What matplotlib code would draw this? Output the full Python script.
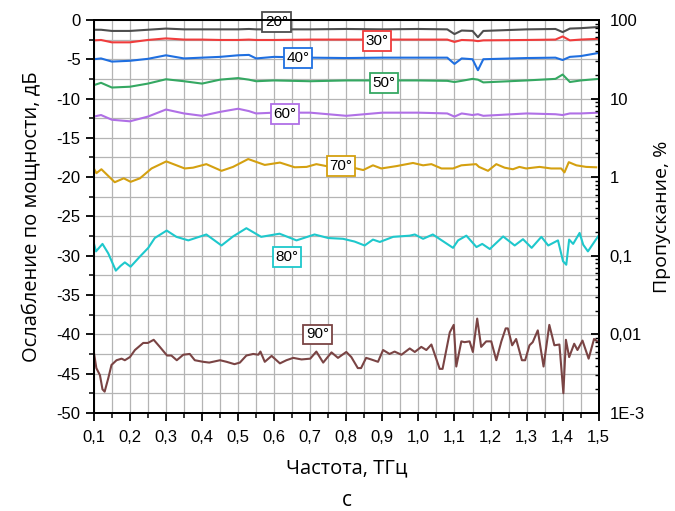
import matplotlib.pyplot as plt
from matplotlib.ticker import MultipleLocator, FixedLocator, FixedFormatter, LogLocator, NullFormatter

# frequencies (THz) and attenuation (dB)
f_flat = [0.10, 0.12, 0.15, 0.20, 0.25, 0.30, 0.35, 0.40, 0.45, 0.50, 0.53, 0.55, 0.60, 0.70,
          0.80, 0.90, 1.00, 1.08, 1.10, 1.12, 1.15, 1.165, 1.18, 1.30, 1.38, 1.40, 1.42, 1.45, 1.50]
db_20 = [-1.25, -1.25, -1.40, -1.40, -1.25, -1.10, -1.20, -1.20, -1.20, -1.20, -1.15, -1.20, -1.20, -1.20,
         -1.15, -1.20, -1.15, -1.20, -1.80, -1.35, -1.40, -2.20, -1.40, -1.20, -1.15, -1.55, -1.10, -1.05, -0.90]
db_30 = [-2.60, -2.55, -2.85, -2.85, -2.55, -2.35, -2.50, -2.50, -2.55, -2.55, -2.50, -2.55, -2.55, -2.50,
         -2.50, -2.50, -2.50, -2.50, -2.80, -2.55, -2.60, -2.70, -2.60, -2.55, -2.50, -2.10, -2.60, -2.50, -2.40]
db_40 = [-5.00, -4.90, -5.30, -5.20, -4.95, -4.50, -4.90, -4.80, -4.70, -4.50, -4.45, -4.90, -4.70, -4.80,
         -4.85, -4.80, -4.80, -4.80, -5.60, -4.90, -5.00, -6.40, -5.00, -4.85, -4.80, -5.10, -4.70, -4.60, -4.20]
db_50 = [-8.30, -8.00, -8.60, -8.50, -8.10, -7.55, -7.80, -8.10, -7.60, -7.40, -7.60, -7.80, -7.70, -7.80,
         -7.70, -7.70, -7.70, -7.75, -7.90, -7.75, -7.50, -7.60, -7.95, -7.70, -7.50, -6.95, -7.90, -7.70, -7.50]
db_60 = [-12.30, -12.10, -12.70, -12.90, -12.30, -11.40, -11.90, -12.20, -11.70, -11.30, -11.60, -11.90, -11.80, -11.80,
         -12.20, -11.80, -11.80, -11.90, -12.30, -11.90, -12.10, -12.00, -12.20, -11.90, -12.00, -12.10, -11.90, -11.90, -11.80]

f_70 = [0.100, 0.107, 0.121, 0.158, 0.183, 0.202, 0.228, 0.260, 0.301, 0.352, 0.375, 0.412, 0.454, 0.486,
        0.528, 0.574, 0.616, 0.657, 0.690, 0.717, 0.745, 0.780, 0.810, 0.847, 0.874, 0.897, 0.939, 0.985,
        1.013, 1.036, 1.064, 1.096, 1.119, 1.160, 1.168, 1.193, 1.216, 1.239, 1.262, 1.280, 1.299, 1.336,
        1.368, 1.396, 1.405, 1.417, 1.438, 1.465, 1.493]
db_70 = [-18.87, -19.50, -19.00, -20.65, -20.15, -20.60, -20.15, -18.90, -18.00, -18.90, -18.80, -18.35, -19.20, -18.70,
         -17.70, -18.45, -18.15, -18.75, -18.70, -18.35, -18.60, -18.50, -18.70, -19.10, -18.50, -18.90, -18.60, -18.20,
         -18.50, -18.35, -18.90, -18.90, -18.50, -18.35, -18.70, -19.20, -18.35, -18.80, -19.00, -18.70, -18.90, -18.70,
         -18.90, -18.90, -19.40, -18.10, -18.50, -18.70, -18.75]

f_80 = [0.100, 0.106, 0.124, 0.140, 0.161, 0.174, 0.186, 0.202, 0.228, 0.251, 0.269, 0.302, 0.329, 0.362,
        0.412, 0.454, 0.486, 0.523, 0.564, 0.615, 0.662, 0.712, 0.750, 0.791, 0.823, 0.851, 0.874, 0.893,
        0.930, 0.976, 0.990, 1.013, 1.040, 1.073, 1.096, 1.110, 1.133, 1.161, 1.177, 1.198, 1.235, 1.267,
        1.290, 1.314, 1.341, 1.360, 1.387, 1.401, 1.410, 1.418, 1.429, 1.447, 1.457, 1.470, 1.498]
db_80 = [-28.40, -29.45, -28.50, -29.70, -31.90, -31.30, -30.85, -31.40, -30.10, -29.00, -27.75, -26.80, -27.60, -28.05,
         -27.30, -28.70, -27.55, -26.50, -27.60, -27.20, -28.05, -27.30, -27.75, -27.85, -28.20, -28.70, -27.95, -28.25,
         -27.60, -27.45, -27.30, -27.85, -27.30, -28.30, -29.00, -28.05, -27.45, -28.90, -28.50, -29.15, -27.55, -28.70,
         -27.90, -29.00, -27.60, -28.70, -28.05, -30.70, -31.15, -27.95, -28.50, -27.10, -28.60, -29.45, -27.55]

f_90 = [0.100, 0.107, 0.117, 0.124, 0.130, 0.140, 0.149, 0.163, 0.177, 0.186, 0.200, 0.214, 0.237, 0.250,
        0.266, 0.283, 0.303, 0.315, 0.330, 0.348, 0.366, 0.380, 0.403, 0.420, 0.450, 0.468, 0.490, 0.505,
        0.523, 0.542, 0.556, 0.562, 0.574, 0.593, 0.616, 0.634, 0.653, 0.676, 0.700, 0.717, 0.736, 0.759,
        0.777, 0.800, 0.814, 0.832, 0.841, 0.855, 0.869, 0.888, 0.902, 0.920, 0.934, 0.953, 0.976, 0.990,
        1.008, 1.022, 1.036, 1.059, 1.067, 1.087, 1.098, 1.105, 1.119, 1.128, 1.142, 1.151, 1.163, 1.174,
        1.188, 1.202, 1.216, 1.230, 1.242, 1.248, 1.260, 1.271, 1.287, 1.296, 1.308, 1.317, 1.331, 1.347,
        1.363, 1.377, 1.391, 1.402, 1.409, 1.418, 1.432, 1.441, 1.455, 1.472, 1.487, 1.499]
db_90 = [-42.25, -44.30, -45.20, -47.00, -47.30, -45.60, -43.90, -43.30, -43.10, -43.30, -42.90, -42.00, -41.10, -41.10,
         -40.70, -41.60, -42.70, -42.70, -43.30, -42.60, -42.50, -43.30, -43.50, -43.60, -43.30, -43.50, -43.80, -43.60,
         -42.70, -42.50, -42.60, -42.20, -43.50, -42.75, -43.70, -43.30, -43.00, -43.20, -43.10, -42.20, -43.60, -42.30,
         -43.00, -42.25, -42.90, -44.30, -44.30, -43.00, -43.20, -43.50, -42.00, -42.50, -42.20, -42.60, -41.80, -42.25,
         -41.60, -42.00, -41.30, -44.40, -44.40, -39.75, -38.80, -44.10, -40.90, -41.00, -40.90, -42.25, -38.00, -41.60,
         -40.90, -40.90, -43.30, -40.90, -39.25, -39.25, -41.40, -40.60, -43.30, -43.30, -41.40, -41.00, -39.50, -44.10,
         -38.80, -41.40, -41.30, -47.50, -40.70, -42.90, -41.20, -42.00, -40.80, -43.10, -40.60, -41.00]

labels = ['20°', '30°', '40°', '50°', '60°', '70°', '80°', '90°']
colors = ['#4d4d4d', '#f03c3c', '#1f6fe0', '#35a862', '#b070e6', '#d4a010', '#1ec8cc', '#7a4444']
label_f = [0.607, 0.885, 0.666, 0.904, 0.630, 0.785, 0.635, 0.720]
label_db = [-0.25, -2.65, -4.85, -8.0, -12.0, -18.6, -30.15, -40.0]

series = [(f_flat, db_20), (f_flat, db_30), (f_flat, db_40), (f_flat, db_50), (f_flat, db_60),
          (f_70, db_70), (f_80, db_80), (f_90, db_90)]

plt.rcParams['font.family'] = ['Liberation Sans', 'DejaVu Sans']
label_font = ['Open Sans', 'DejaVu Sans']

fig = plt.figure(figsize=(6.75, 5.11), dpi=100)
ax = fig.add_axes([0.139, 0.192, 0.748, 0.769])

for (x, y), c in zip(series, colors):
    ax.plot(x, y, color=c, lw=1.5, zorder=3)

for t, c, x, y in zip(labels, colors, label_f, label_db):
    ax.text(x, y, t, color='black', fontsize=11, ha='center', va='center', zorder=5,
            bbox=dict(boxstyle='square,pad=0.18', fc='white', ec=c, lw=1.3))

ax.set_xlim(0.1, 1.5)
ax.set_ylim(-50, 0)
ax.xaxis.set_major_locator(MultipleLocator(0.1))
ax.xaxis.set_minor_locator(MultipleLocator(0.05))
ax.yaxis.set_major_locator(MultipleLocator(5))
ax.yaxis.set_minor_locator(MultipleLocator(2.5))
ax.xaxis.set_major_formatter(plt.FuncFormatter(lambda v, p: f'{v:.1f}'.replace('.', ',')))
ax.yaxis.set_major_formatter(plt.FuncFormatter(lambda v, p: f'{v:.0f}'))
ax.grid(True, which='both', color='#b4b4b4', lw=0.9, zorder=0)
ax.tick_params(which='major', direction='out', length=6, width=1.3, labelsize=12)
ax.tick_params(which='minor', direction='out', length=3.5, width=1.1)
ax.tick_params(axis='x', pad=6)
for s in ax.spines.values():
    s.set_linewidth(1.4)

ax.set_xlabel('Частота, ТГц', fontsize=14.5, family=label_font, labelpad=10)
ax.set_ylabel('Ослабление по мощности, дБ', fontsize=14.5, family=label_font, labelpad=10)

ax2 = ax.twinx()
ax2.set_yscale('log')
ax2.set_ylim(1e-3, 100)
ax2.yaxis.set_major_locator(FixedLocator([1e-3, 1e-2, 1e-1, 1, 10, 100]))
ax2.yaxis.set_major_formatter(FixedFormatter(['1E-3', '0,01', '0,1', '1', '10', '100']))
ax2.yaxis.set_minor_locator(LogLocator(base=10, subs=range(2, 10)))
ax2.yaxis.set_minor_formatter(NullFormatter())
ax2.tick_params(which='major', direction='in', length=6, width=1.3, labelsize=12, pad=8)
ax2.tick_params(which='minor', direction='in', length=3, width=1.0)
ax2.set_ylabel('Пропускание, %', fontsize=14, family=label_font, labelpad=6)
for s in ax2.spines.values():
    s.set_linewidth(1.4)

fig.text(0.514, 0.0, 'c', fontsize=15, ha='center', va='bottom', family=label_font)

fig.savefig('out.png', dpi=100)
